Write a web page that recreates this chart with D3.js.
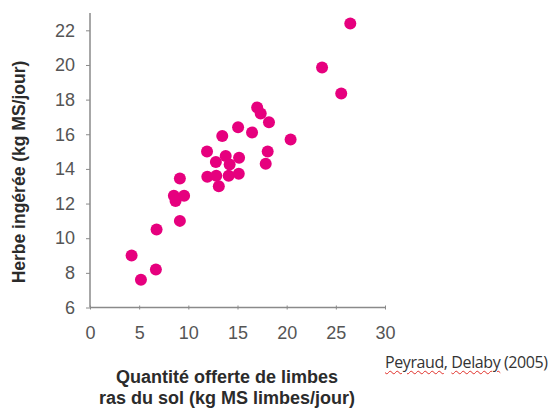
<!DOCTYPE html>
<html>
<head>
<meta charset="utf-8">
<script src="https://cdn.jsdelivr.net/npm/d3@7"></script>
<style>
  body { margin: 0; background: #fff; }
  #wrap { position: relative; width: 554px; height: 408px; }
  #source {
    position: absolute; left: 385px; top: 351px;
    font-family: "Open Sans", "DejaVu Sans", sans-serif; font-size: 16px; color: #333;
    white-space: nowrap; letter-spacing: -0.4px;
  }
  .spell { text-decoration: underline wavy #e0302a; text-decoration-thickness: 1px; text-underline-offset: 2px; }
</style>
</head>
<body>
<div id="wrap">
  <svg id="chart" width="554" height="408"></svg>
  <div id="source"><span class="spell">Peyraud</span>, <span class="spell">Delaby</span> (2005)</div>
</div>
<script>
// offered leaf mass (x) vs grass intake (y)
const offered = [4.23, 5.18, 6.7, 6.77, 9.14, 8.53, 8.7, 9.57, 9.14, 11.93, 12.84, 13.1, 14.1, 15.13,
  11.9, 12.8, 13.8, 14.2, 15.16, 13.45, 15.06, 16.48, 18.07, 17.87, 18.2, 17.0, 17.36, 20.4, 23.6, 25.55, 26.47];
const intake = [9.0, 7.6, 8.2, 10.5, 11.0, 12.45, 12.15, 12.45, 13.45, 13.55, 13.6, 13.0, 13.6, 13.72,
  15.0, 14.4, 14.75, 14.25, 14.65, 15.9, 16.4, 16.1, 15.0, 14.3, 16.7, 17.55, 17.2, 15.7, 19.85, 18.35, 22.4];
const xTicks = [0, 5, 10, 15, 20, 25, 30];
const yTicks = [6, 8, 10, 12, 14, 16, 18, 20, 22];

const svg = d3.select("#chart");
const x = d3.scaleLinear().domain([0, 30]).range([90, 385]);
const y = d3.scaleLinear().domain([6, 23]).range([307.5, 13]);

const axisColor = "#8a8a8a";
const labelColor = "#555";

// y axis
const gy = svg.append("g")
    .attr("transform", "translate(90,0)")
    .call(d3.axisLeft(y).tickValues(yTicks).tickSize(4).tickPadding(11));
gy.select(".domain").attr("stroke", axisColor).attr("stroke-width", 1.5).attr("d", `M0,${y(6)}V${y(23)}`);
gy.selectAll(".tick line").attr("stroke", axisColor);
gy.selectAll(".tick text")
    .attr("fill", labelColor)
    .attr("font-family", "Liberation Sans, Arial, sans-serif")
    .attr("font-size", "18px");

// x axis
const gx = svg.append("g")
    .attr("transform", `translate(0,${y(6)})`)
    .call(d3.axisBottom(x).tickValues(xTicks).tickSize(2).tickPadding(17));
gx.select(".domain").attr("stroke", axisColor).attr("stroke-width", 1.5).attr("d", `M${x(0)},0H${x(30)}`);
gx.selectAll(".tick line").attr("stroke", axisColor).attr("y1", -2);
gx.selectAll(".tick text")
    .attr("fill", labelColor)
    .attr("font-family", "Liberation Sans, Arial, sans-serif")
    .attr("font-size", "18px");

// points
svg.append("g").selectAll("circle")
    .data(offered.map((v, i) => [v, intake[i]]))
    .enter().append("circle")
    .attr("cx", d => x(d[0]))
    .attr("cy", d => y(d[1]))
    .attr("r", 6)
    .attr("fill", "#e6007e");

// axis titles
svg.append("text")
    .attr("transform", "translate(25,172) rotate(-90)")
    .attr("text-anchor", "middle")
    .attr("font-family", "Liberation Sans, Arial, sans-serif")
    .attr("font-weight", "bold")
    .attr("font-size", "17.5px")
    .attr("fill", "#2b2b2b")
    .text("Herbe ingérée (kg MS/jour)");

const xt = svg.append("text")
    .attr("text-anchor", "middle")
    .attr("font-family", "Liberation Sans, Arial, sans-serif")
    .attr("font-weight", "bold")
    .attr("font-size", "18px")
    .attr("fill", "#2b2b2b");
xt.append("tspan").attr("x", 227).attr("y", 383).text("Quantité offerte de limbes");
xt.append("tspan").attr("x", 227).attr("y", 404).text("ras du sol (kg MS limbes/jour)");
</script>
</body>
</html>
